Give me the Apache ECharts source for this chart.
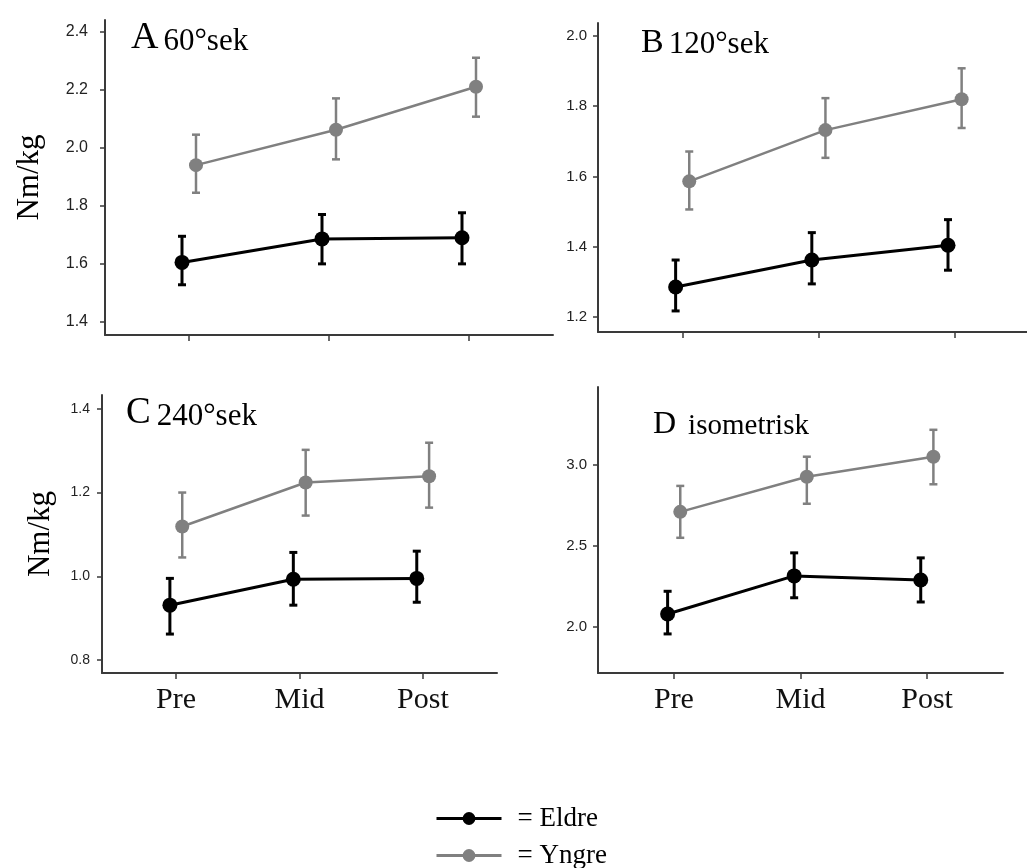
<!DOCTYPE html>
<html><head><meta charset="utf-8">
<script src="https://cdn.jsdelivr.net/npm/echarts@6/dist/echarts.min.js"></script>
<style>html,body{margin:0;padding:0;background:#fff}#c{width:1027px;height:868px}</style>
</head><body><div id="c"></div>
<script>
// ---------- data ----------
const categories = ['Pre', 'Mid', 'Post'];
const seriesNames = ['Eldre', 'Yngre'];
const xPositions = [1, 2, 3];

// Panel A: 60°sek
const eldreA    = [1.605, 1.686, 1.690];
const eldreA_lo = [1.528, 1.600, 1.600];
const eldreA_hi = [1.695, 1.770, 1.776];
const yngreA    = [1.940, 2.062, 2.210];
const yngreA_lo = [1.845, 1.960, 2.107];
const yngreA_hi = [2.045, 2.170, 2.310];

// Panel B: 120°sek
const eldreB    = [1.285, 1.362, 1.404];
const eldreB_lo = [1.217, 1.294, 1.333];
const eldreB_hi = [1.362, 1.440, 1.477];
const yngreB    = [1.586, 1.732, 1.820];
const yngreB_lo = [1.506, 1.653, 1.738];
const yngreB_hi = [1.671, 1.823, 1.908];

// Panel C: 240°sek
const eldreC    = [0.931, 0.993, 0.995];
const eldreC_lo = [0.862, 0.931, 0.938];
const eldreC_hi = [0.995, 1.057, 1.060];
const yngreC    = [1.119, 1.224, 1.239];
const yngreC_lo = [1.045, 1.145, 1.164];
const yngreC_hi = [1.200, 1.302, 1.319];

// Panel D: isometrisk
const eldreD    = [2.080, 2.315, 2.290];
const eldreD_lo = [1.957, 2.180, 2.154];
const eldreD_hi = [2.220, 2.457, 2.426];
const yngreD    = [2.710, 2.926, 3.050];
const yngreD_lo = [2.550, 2.760, 2.880];
const yngreD_hi = [2.870, 3.050, 3.216];

const yTicksA = [1.4, 1.6, 1.8, 2.0, 2.2, 2.4];
const yTicksB = [1.2, 1.4, 1.6, 1.8, 2.0];
const yTicksC = [0.8, 1.0, 1.2, 1.4];
const yTicksD = [2.0, 2.5, 3.0];

const titleLetters = ['A', 'B', 'C', 'D'];
const titleTexts = ['60°sek', '120°sek', '240°sek', 'isometrisk'];
const yAxisName = 'Nm/kg';

// ---------- layout / style ----------
const SERIF = '"Liberation Serif", "Times New Roman", serif';
const SANS = '"Liberation Sans", Arial, sans-serif';
const BLACK = '#000000';
const GRAY = '#808080';
const AXIS = '#3a3a3a';
const DODGE = [-0.05, 0.05];

const panels = [
  { grid: {left: 105, top: 20, width: 448, height: 315}, ymin: 1.355, ymax: 2.44, xmin: 0.4, xmax: 3.6,
    ticks: yTicksA, lab: {size: 16, margin: 17}, eld: [eldreA, eldreA_lo, eldreA_hi], yng: [yngreA, yngreA_lo, yngreA_hi],
    labels: false, name: true, nameGap: 60, title: {left: 126, top: 14, a: 38, b: 31, pad: 0} },
  { grid: {left: 598, top: 23, width: 429, height: 309}, ymin: 1.157, ymax: 2.037, xmin: 0.38, xmax: 3.53,
    ticks: yTicksB, lab: {size: 15, margin: 11}, eld: [eldreB, eldreB_lo, eldreB_hi], yng: [yngreB, yngreB_lo, yngreB_hi],
    labels: false, name: false, title: {left: 636, top: 21, a: 34, b: 31, pad: 0} },
  { grid: {left: 102, top: 395, width: 395, height: 278}, ymin: 0.769, ymax: 1.433, xmin: 0.4, xmax: 3.6,
    ticks: yTicksC, lab: {size: 14, margin: 12}, eld: [eldreC, eldreC_lo, eldreC_hi], yng: [yngreC, yngreC_lo, yngreC_hi],
    labels: true, name: true, nameGap: 46, title: {left: 121, top: 390, a: 37, b: 31, pad: 1} },
  { grid: {left: 598, top: 387, width: 405, height: 286}, ymin: 1.716, ymax: 3.48, xmin: 0.4, xmax: 3.6,
    ticks: yTicksD, lab: {size: 15, margin: 11}, eld: [eldreD, eldreD_lo, eldreD_hi], yng: [yngreD, yngreD_lo, yngreD_hi],
    labels: true, name: false, title: {left: 648, top: 404, a: 32, b: 29, pad: 7} }
];

function makeErr(color, width) {
  return function (params, api) {
    const x = api.value(0), lo = api.value(1), hi = api.value(2);
    const pLo = api.coord([x, lo]), pHi = api.coord([x, hi]);
    const cap = 4;
    const style = {stroke: color, lineWidth: width};
    return {type: 'group', children: [
      {type: 'line', shape: {x1: pLo[0], y1: pLo[1], x2: pHi[0], y2: pHi[1]}, style: style},
      {type: 'line', shape: {x1: pLo[0] - cap, y1: pLo[1], x2: pLo[0] + cap, y2: pLo[1]}, style: style},
      {type: 'line', shape: {x1: pHi[0] - cap, y1: pHi[1], x2: pHi[0] + cap, y2: pHi[1]}, style: style}
    ]};
  };
}

const grids = [], xAxes = [], yAxes = [], series = [], titles = [];
panels.forEach((p, i) => {
  grids.push(Object.assign({containLabel: false}, p.grid));
  xAxes.push({
    type: 'value', gridIndex: i, min: p.xmin, max: p.xmax,
    axisLine: {show: true, lineStyle: {color: AXIS, width: 2}},
    axisTick: {show: true, length: 6, lineStyle: {color: AXIS, width: 1.5}, customValues: xPositions},
    axisLabel: {show: p.labels, customValues: xPositions, margin: 12,
      formatter: v => categories[Math.round(v) - 1] || '',
      fontFamily: SERIF, fontSize: 30, color: '#111'},
    splitLine: {show: false}
  });
  yAxes.push({
    type: 'value', gridIndex: i, min: p.ymin, max: p.ymax,
    name: p.name ? yAxisName : '', nameLocation: 'middle', nameGap: p.nameGap || 0,
    nameTextStyle: {fontFamily: SERIF, fontSize: 31, color: '#000'},
    axisLine: {show: true, lineStyle: {color: AXIS, width: 2}},
    axisTick: {show: true, length: 5, lineStyle: {color: AXIS, width: 1.5}, customValues: p.ticks},
    axisLabel: {show: true, customValues: p.ticks, margin: p.lab.margin, formatter: v => v.toFixed(1),
      fontFamily: SANS, fontSize: p.lab.size, color: '#222'},
    splitLine: {show: false}
  });
  const groups = [[p.eld, BLACK, 3, 15, DODGE[0]], [p.yng, GRAY, 2.5, 14, DODGE[1]]];
  groups.forEach((g, k) => {
    const [arr, color, lw, sz, dx] = g;
    series.push({
      type: 'custom', xAxisIndex: i, yAxisIndex: i, z: 1, silent: true,
      renderItem: makeErr(color, lw),
      encode: {x: 0, y: [1, 2]},
      data: xPositions.map((x, j) => [x + dx, arr[1][j], arr[2][j]])
    });
    series.push({
      type: 'line', name: seriesNames[k], xAxisIndex: i, yAxisIndex: i, z: 3,
      data: xPositions.map((x, j) => [x + dx, arr[0][j]]),
      symbol: 'circle', symbolSize: sz, showSymbol: true,
      itemStyle: {color: color}, lineStyle: {color: color, width: lw},
      animation: false
    });
  });
  titles.push({
    left: p.title.left, top: p.title.top,
    text: '{a|' + titleLetters[i] + '} {b|' + titleTexts[i] + '}',
    textStyle: {fontWeight: 'normal', rich: {
      a: {fontFamily: SERIF, fontSize: p.title.a, fontWeight: 'normal', color: '#000', verticalAlign: 'bottom'},
      b: {fontFamily: SERIF, fontSize: p.title.b, fontWeight: 'normal', color: '#000', verticalAlign: 'bottom',
          padding: [0, 0, 0, p.title.pad]}
    }}
  });
});

function legendFor(name, top) {
  return {
    data: [name], orient: 'horizontal', left: 430, top: top,
    itemWidth: 65, itemHeight: 16, selectedMode: false,
    lineStyle: {width: 3},
    formatter: n => '{t|= ' + n + '}',
    textStyle: {fontFamily: SERIF, fontSize: 27, color: '#000',
      rich: {t: {fontFamily: SERIF, fontSize: 27, color: '#000', padding: [0, 0, 0, 11]}}}
  };
}

const chart = echarts.init(document.getElementById('c'), null, {renderer: 'canvas'});
chart.setOption({
  animation: false,
  backgroundColor: '#ffffff',
  title: titles,
  grid: grids, xAxis: xAxes, yAxis: yAxes, series: series,
  legend: [legendFor(seriesNames[0], 800), legendFor(seriesNames[1], 837)]
});
</script>
</body></html>
